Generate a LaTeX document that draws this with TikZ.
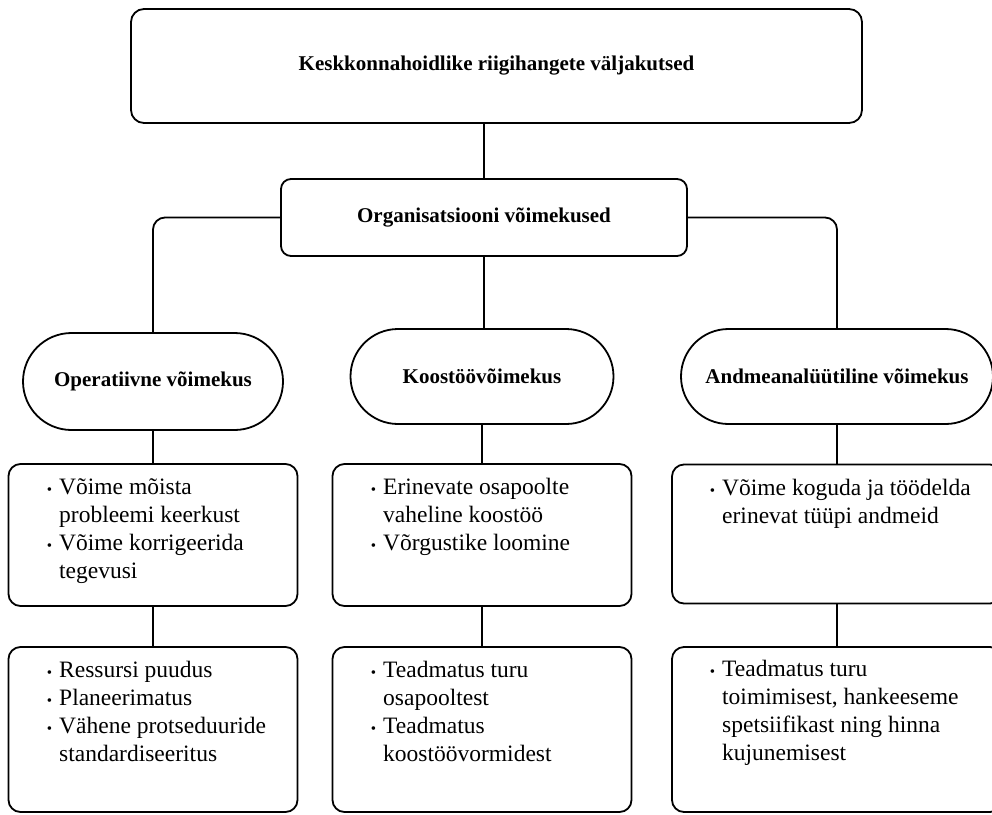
\documentclass[tikz,border=0pt]{standalone}
\usepackage{fontspec}
\setmainfont{Liberation Serif}
\newcommand{\bul}{\leavevmode\llap{{\fontsize{15}{15}\selectfont •}\hspace{7pt}}}
\tikzset{
  frame/.style={draw, line width=1.8pt, rounded corners=12pt, inner sep=0pt},
  headbox/.style={frame, font=\fontsize{21}{25}\selectfont\bfseries},
  pill/.style={draw, line width=1.8pt, inner sep=0pt, font=\fontsize{21}{25}\selectfont\bfseries},
  listbox/.style={frame},
  listtext/.style={anchor=base west, inner sep=0pt},
  link/.style={line width=1.8pt},
}
\newcommand{\lst}[1]{\parbox[t]{300pt}{\fontsize{23.5}{28}\selectfont\raggedright #1}}
\begin{document}
\begin{tikzpicture}[x=1pt,y=-1pt]
\clip (0,0) rectangle (992,814);
\fill[white] (0,0) rectangle (992,814);

\node[headbox, minimum width=731pt, minimum height=114pt, rounded corners=13pt] (top) at (496.5,66) {Keskkonnahoidlike riigihangete väljakutsed};
\node[headbox, minimum width=406pt, minimum height=77pt, rounded corners=10pt] (org) at (484,217.5) {Organisatsiooni võimekused};

\node[pill, minimum width=260pt, minimum height=97pt, rounded corners=48.5pt] (op) at (153,381.5) {Operatiivne võimekus};
\node[pill, minimum width=263pt, minimum height=95pt, rounded corners=47.5pt] (koo) at (482,376.5) {Koostöövõimekus};
\node[pill, minimum width=312pt, minimum height=95pt, rounded corners=47.5pt] (an) at (837,376.5) {Andmeanalüütiline võimekus};

\node[listbox, minimum width=289pt, minimum height=142pt] (l2) at (153,535) {};
\node[listbox, minimum width=299pt, minimum height=142pt] (m2) at (482,535) {};
\node[listbox, minimum width=330pt, minimum height=139pt] (r2) at (837,534) {};

\node[listbox, minimum width=289pt, minimum height=165pt] (l3) at (153,729.5) {};
\node[listbox, minimum width=299pt, minimum height=165pt] (m3) at (482,729.5) {};
\node[listbox, minimum width=330pt, minimum height=165pt] (r3) at (837,729.5) {};

\node[listtext] (l2t) at (59,494) {\lst{\bul Võime mõista\\probleemi keerkust\\\bul Võime korrigeerida\\tegevusi}};
\node[listtext] (m2t) at (383,494) {\lst{\bul Erinevate osapoolte\\vaheline koostöö\\\bul Võrgustike loomine}};
\node[listtext] (r2t) at (722,495) {\lst{\bul Võime koguda ja töödelda\\erinevat tüüpi andmeid}};

\node[listtext] (l3t) at (59,677) {\lst{\bul Ressursi puudus\\\bul Planeerimatus\\\bul Vähene protseduuride\\standardiseeritus}};
\node[listtext] (m3t) at (383,677) {\lst{\bul Teadmatus turu\\osapooltest\\\bul Teadmatus\\koostöövormidest}};
\node[listtext] (r3t) at (722,676) {\lst{\bul Teadmatus turu\\toimimisest, hankeeseme\\spetsiifikast ning hinna\\kujunemisest}};

\draw[link] (org.north) -- (org.north |- top.south);
\draw[link, rounded corners=12pt] (org.west) -| (op.north);
\draw[link] (org.south) -- (org.south |- koo.north);
\draw[link, rounded corners=12pt] (org.east) -| (an.north);

\draw[link] (op.south) -- (op.south |- l2.north);
\draw[link] (koo.south) -- (koo.south |- m2.north);
\draw[link] (an.south) -- (an.south |- r2.north);

\draw[link] (l2.south) -- (l2.south |- l3.north);
\draw[link] (m2.south) -- (m2.south |- m3.north);
\draw[link] (r2.south) -- (r2.south |- r3.north);
\end{tikzpicture}
\end{document}
